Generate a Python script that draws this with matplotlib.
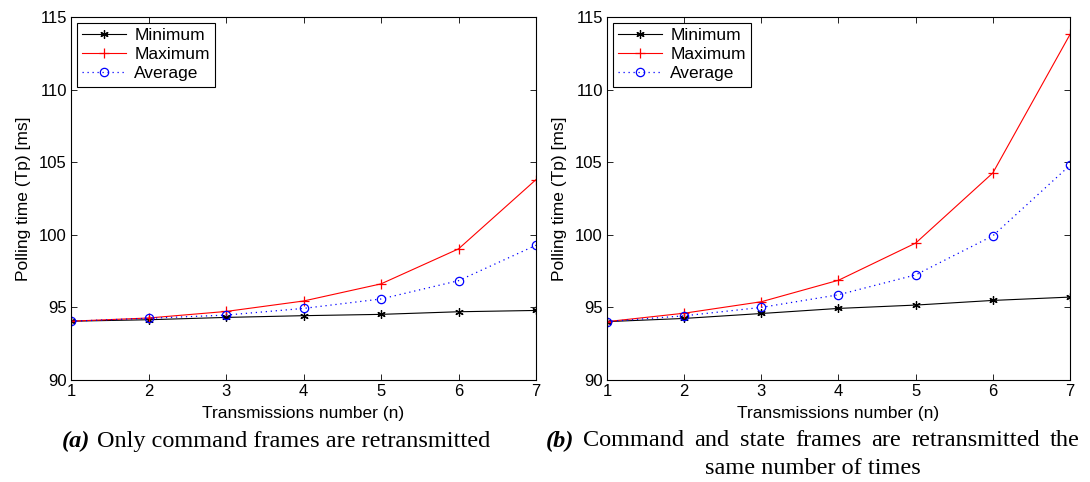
import matplotlib
matplotlib.use("Agg")
import matplotlib.pyplot as plt

# transmissions number (n)
n = [1, 2, 3, 4, 5, 6, 7]

# (a) only command frames retransmitted
min_a = [94.05, 94.15, 94.31, 94.43, 94.52, 94.70, 94.79]
max_a = [94.05, 94.27, 94.72, 95.44, 96.62, 99.03, 103.80]
avg_a = [94.05, 94.25, 94.47, 94.93, 95.58, 96.84, 99.28]

# (b) command and state frames retransmitted
min_b = [94.02, 94.24, 94.58, 94.93, 95.16, 95.48, 95.71]
max_b = [94.02, 94.60, 95.39, 96.87, 99.43, 104.26, 113.80]
avg_b = [94.02, 94.42, 95.00, 95.87, 97.24, 99.93, 104.79]

yticks = [90, 95, 100, 105, 110, 115]

cap_a = "Only command frames are retransmitted"
cap_b1 = "Command and state frames are retransmitted the"
cap_b2 = "same number of times"

sans = ["Liberation Sans", "DejaVu Sans"]
serif = ["Liberation Serif", "DejaVu Serif"]
W, H = 1090, 482

fig = plt.figure(figsize=(W / 100, H / 100), dpi=100)
ax_a = fig.add_axes([71 / W, 102 / H, 465 / W, 363 / H])
ax_b = fig.add_axes([607 / W, 102 / H, 463 / W, 363 / H])


def draw(ax, mn, mx, av):
    # matlab-like asterisk marker
    ax.plot(n, mn, color="black", lw=0.8, marker=(6, 2, 0), ms=6, mew=0.9,
            label="Minimum")
    ax.plot(n, mx, color="red", lw=0.8, marker="+", ms=7, mew=0.9, label="Maximum")
    ax.plot(n, av, color="blue", lw=0.9, ls=(0, (1, 3)), marker="o", ms=6,
            mfc="none", mec="blue", mew=0.9, label="Average")
    ax.set_xlim(1, 7)
    ax.set_ylim(90, 115)
    ax.set_xticks(n)
    ax.set_yticks(yticks)
    ax.tick_params(direction="in", top=True, right=True, length=4, width=0.6,
                   labelsize=12, pad=3)
    for lab in ax.get_xticklabels() + ax.get_yticklabels():
        lab.set_family(sans)
    for sp in ax.spines.values():
        sp.set_linewidth(0.8)
    ax.set_xlabel("Transmissions number (n)", family=sans, fontsize=12.5, labelpad=5)
    ax.set_ylabel("Polling time (Tp) [ms]", family=sans, fontsize=12.5, labelpad=6)
    leg = ax.legend(loc="upper left", fancybox=False, edgecolor="black",
                    framealpha=1, borderaxespad=0.35, handlelength=2.5,
                    labelspacing=0.22, borderpad=0.3, handletextpad=0.5,
                    prop={"family": sans, "size": 12.5})
    leg.get_frame().set_linewidth(0.8)


draw(ax_a, min_a, max_a, avg_a)
draw(ax_b, min_b, max_b, avg_b)

# captions
cs = 17.5
y1, y2 = 1 - 441 / H, 1 - 469 / H
fig.text(62 / W, y1, "(a)", fontsize=cs, family=serif, style="italic",
         weight="bold", va="center")
fig.text(97 / W, y1, cap_a, fontsize=cs, family=serif, va="center")
fig.text(546 / W, y1, "(b)", fontsize=cs, family=serif, style="italic",
         weight="bold", va="center")

# first line of (b) is justified between x=583 and x=1080 px
words = cap_b1.split()
fig.canvas.draw()
r = fig.canvas.get_renderer()
tw = []
for w in words:
    t = fig.text(0, 0, w, fontsize=cs, family=serif)
    tw.append(t.get_window_extent(r).width)
    t.remove()
gap = (1080 - 583 - sum(tw)) / (len(words) - 1)
x = 583
for w, wd in zip(words, tw):
    fig.text(x / W, y1, w, fontsize=cs, family=serif, va="center")
    x += wd + gap
fig.text(813 / W, y2, cap_b2, fontsize=cs, family=serif, va="center", ha="center")

fig.savefig("out.png", dpi=100)
